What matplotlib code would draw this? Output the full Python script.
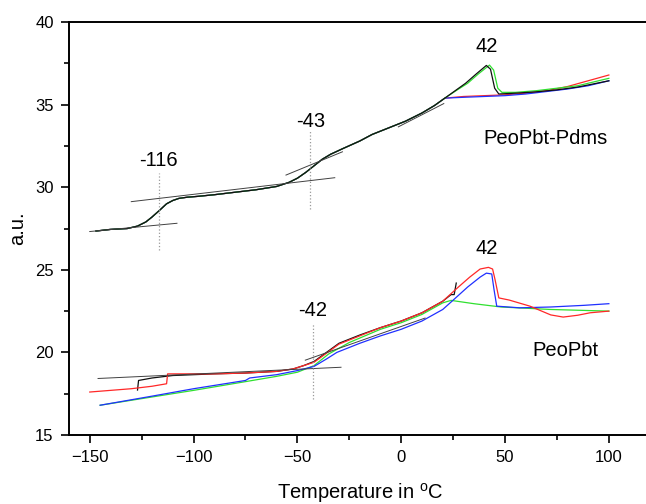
import matplotlib
matplotlib.use('Agg')
import matplotlib.pyplot as plt
from matplotlib.ticker import MultipleLocator

plt.rcParams['font.family'] = ['Liberation Sans', 'DejaVu Sans']
plt.rcParams['mathtext.fontset'] = 'custom'
plt.rcParams['mathtext.rm'] = 'Liberation Sans'

# PeoPbt-Pdms: shared low temperature part, then per-run branches
upper_base_x = [-147, -140, -132, -127, -123, -120, -116, -113, -110, -107, -103, -98, -90,
                -80, -70, -60, -54, -50, -46, -42, -38, -34, -28, -20, -14, -6, 2, 10, 16, 21]
upper_base_y = [27.35, 27.45, 27.5, 27.65, 27.9, 28.2, 28.65, 29.0, 29.2, 29.33, 29.4, 29.45, 29.55,
                29.7, 29.85, 30.05, 30.3, 30.55, 30.9, 31.3, 31.7, 32.0, 32.35, 32.8, 33.2, 33.6, 34.0, 34.5, 34.95, 35.4]

up_black_x = [21, 26, 31, 36, 41, 43, 45, 47, 55, 65, 75, 85, 100]
up_black_y = [35.4, 35.85, 36.3, 36.85, 37.38, 37.15, 36.0, 35.65, 35.7, 35.78, 35.9, 36.07, 36.45]
up_green_x = [21, 27, 32, 37, 42.5, 44.5, 46.5, 48.5, 55, 65, 75, 85, 100]
up_green_y = [35.4, 35.9, 36.3, 36.85, 37.4, 37.1, 36.0, 35.75, 35.75, 35.85, 36.0, 36.15, 36.6]
up_red_x = [21, 30, 40, 50, 60, 70, 80, 90, 100]
up_red_y = [35.45, 35.5, 35.55, 35.6, 35.7, 35.85, 36.1, 36.45, 36.8]
up_blue_x = [21, 30, 40, 50, 60, 70, 80, 90, 100]
up_blue_y = [35.4, 35.45, 35.5, 35.55, 35.65, 35.8, 35.95, 36.15, 36.45]

# PeoPbt
low_red_x = [-150, -140, -130, -120, -113, -112.5, -105, -90, -75, -60, -52, -47, -42, -30, -20,
             -10, 0, 10, 20, 27, 33, 38, 42, 44, 45.2, 47, 52, 62, 72, 78, 85, 91, 100]
low_red_y = [17.6, 17.7, 17.8, 17.95, 18.1, 18.7, 18.7, 18.7, 18.75, 18.85, 19.0, 19.2, 19.4, 20.5, 21.0,
             21.5, 21.9, 22.4, 23.1, 23.9, 24.56, 25.05, 25.15, 25.05, 24.4, 23.3, 23.17, 22.8, 22.27, 22.14, 22.25, 22.4, 22.5]
low_black_x = [-127, -126.5, -120, -110, -90, -75, -60, -52, -47, -42, -30, -20, -10, 0, 10, 20, 24, 25.5, 26.5]
low_black_y = [17.72, 18.3, 18.45, 18.6, 18.7, 18.75, 18.85, 19.0, 19.2, 19.45, 20.55, 21.05, 21.5, 21.9, 22.4, 23.1, 23.5, 23.5, 24.2]
low_green_x = [-145, -120, -100, -74, -60, -50, -42, -35, -25, -10, 0, 10, 20, 24, 35, 48, 72, 100]
low_green_y = [16.8, 17.3, 17.7, 18.25, 18.55, 18.8, 19.2, 19.9, 20.6, 21.4, 21.8, 22.3, 23.0, 23.15, 22.95, 22.75, 22.6, 22.5]
low_blue_x = [-145, -120, -100, -75, -73, -60, -50, -42, -36, -31, -20, -10, 0, 10, 20, 24, 32, 38, 41,
              43.6, 44.7, 46, 57, 72, 88, 100]
low_blue_y = [16.8, 17.35, 17.8, 18.3, 18.45, 18.65, 18.9, 19.15, 19.6, 20.0, 20.55, 21.0, 21.4, 21.9, 22.6, 23.05, 23.96, 24.56, 24.8,
              24.75, 23.8, 22.8, 22.7, 22.75, 22.85, 22.95]

# tangent construction lines
tangents = [
    ([-150, -108], [27.32, 27.82]),
    ([-130, -32], [29.13, 30.58]),
    ([-55.5, -28.3], [30.74, 32.15]),
    ([-1.4, 20.5], [33.66, 35.07]),
    ([-146, -29], [18.42, 19.1]),
    ([-46.2, 11.5], [19.53, 22.08]),
]
markers = [(-116.8, 26.2, 30.85), (-43.8, 28.7, 33.45), (-42.6, 17.15, 21.7)]
labels = [(-116.8, 31.65, '-116'), (-43.8, 34.0, '-43'), (41.3, 38.5, '42'),
          (41.3, 26.3, '42'), (-42.6, 22.55, '-42'),
          (69.6, 32.95, 'PeoPbt-Pdms'), (79.1, 20.13, 'PeoPbt')]

fig = plt.figure(figsize=(6.46, 5.04), dpi=100)
ax = fig.add_axes([0.1068, 0.137, 0.9, 0.819])

red, green, blue, black = '#ff2828', '#30e030', '#2030ff', '#101010'

for col, bx, by in [(red, up_red_x, up_red_y), (blue, up_blue_x, up_blue_y),
                    (green, up_green_x, up_green_y), (black, up_black_x, up_black_y)]:
    ax.plot(upper_base_x + bx[1:], upper_base_y + by[1:], color=col, lw=0.9)

ax.plot(low_green_x, low_green_y, color=green, lw=0.9)
ax.plot(low_blue_x, low_blue_y, color=blue, lw=0.9)
ax.plot(low_black_x, low_black_y, color=black, lw=0.9)
ax.plot(low_red_x, low_red_y, color=red, lw=0.9)

for tx, ty in tangents:
    ax.plot(tx, ty, color='#404040', lw=0.7)
for mx, y0, y1 in markers:
    ax.plot([mx, mx], [y0, y1], color='#999999', lw=0.9, ls=':')
for lx, ly, txt in labels:
    ax.text(lx, ly, txt, fontsize=14.5, ha='center', va='center')

ax.set_xlim(-160, 120)
ax.set_ylim(15, 40)
ax.xaxis.set_major_locator(MultipleLocator(50))
ax.xaxis.set_minor_locator(MultipleLocator(25))
ax.yaxis.set_major_locator(MultipleLocator(5))
ax.yaxis.set_minor_locator(MultipleLocator(2.5))
ax.tick_params(which='major', direction='out', length=6, width=1.2, labelsize=12, pad=5)
ax.tick_params(which='minor', direction='out', length=3.5, width=1.2)
for s in ax.spines.values():
    s.set_linewidth(1.4)

ax.set_xlabel(r'Temperature in $^{\mathrm{o}}$C', fontsize=14.5, labelpad=11)
ax.set_ylabel('a.u.', fontsize=14.5, labelpad=6)

fig.savefig('out.png', dpi=100)
